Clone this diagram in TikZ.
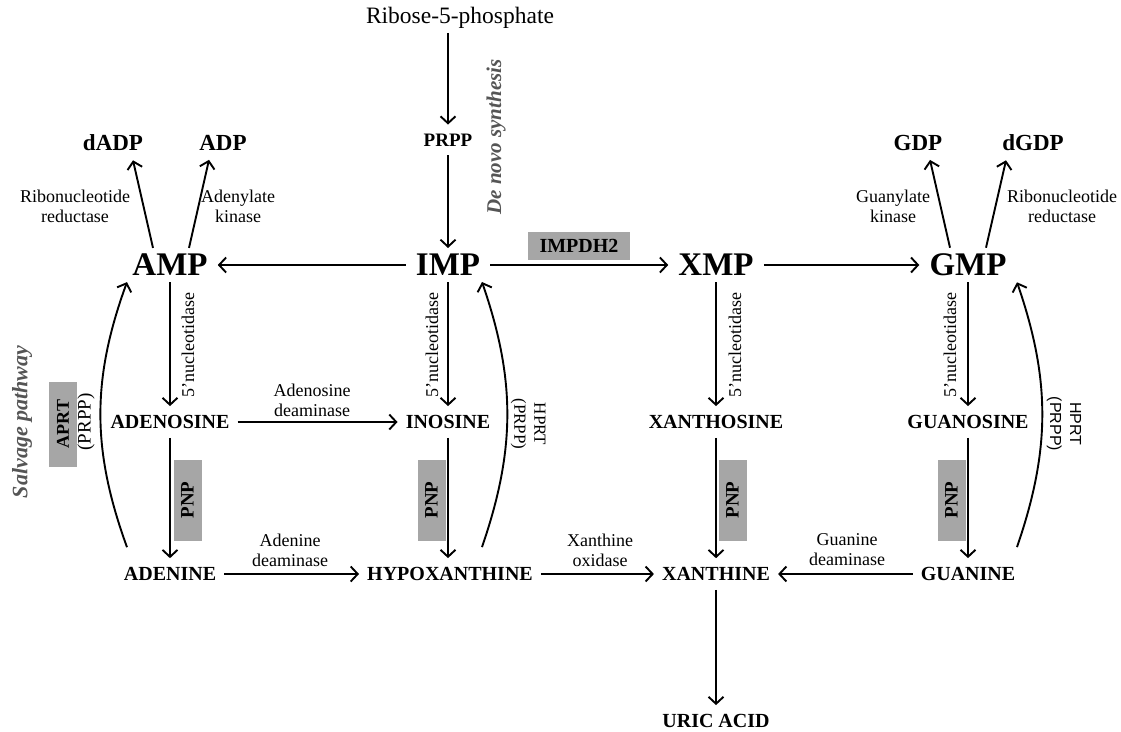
\documentclass[tikz,border=0pt]{standalone}
\usepackage{fontspec}
\setmainfont{Liberation Serif}
\newfontfamily\hprtsans{Liberation Sans}
\usetikzlibrary{arrows.meta, positioning}
\definecolor{enzGray}{HTML}{A6A6A6}
\definecolor{pathGray}{HTML}{555555}
\tikzset{
  bigmet/.style={font=\bfseries\fontsize{33}{33}\selectfont, inner xsep=10pt, inner ysep=6pt},
  met/.style={font=\bfseries\fontsize{20}{20}\selectfont, inner xsep=8pt, inner ysep=9pt},
  topmet/.style={font=\bfseries\fontsize{23}{23}\selectfont, inner xsep=4pt, inner ysep=9pt},
  enzlabel/.style={font=\fontsize{18}{20}\selectfont, align=center, inner sep=1pt},
  nucl/.style={font=\fontsize{18}{20}\selectfont, rotate=90, inner sep=1pt},
  grayenz/.style={fill=enzGray, inner sep=0pt, minimum height=28pt, font=\bfseries\fontsize{19}{19}\selectfont},
  pnpbox/.style={grayenz, rotate=90, minimum width=81pt},
  pathlabel/.style={text=pathGray, rotate=90, inner sep=1pt},
  flowarr/.style={-{Straight Barb[length=7pt,width=15pt]}, line width=1.9pt},
}
\begin{document}
\begin{tikzpicture}[x=1pt, y=1pt]
    \useasboundingbox (0,0) rectangle (1121,-731);
    \node[font=\fontsize{23.5}{24}\selectfont, inner ysep=4pt] (ribose) at (460,-18) {Ribose-5-phosphate};
    \node[met, font=\bfseries\fontsize{19}{19}\selectfont] (prpp) at (448,-140) {PRPP};
    \node[bigmet] (amp) at (170,-265) {AMP};
    \node[bigmet] (imp) at (448,-265) {IMP};
    \node[bigmet] (xmp) at (716,-265) {XMP};
    \node[bigmet] (gmp) at (968,-265) {GMP};
    \node[topmet] (dadp) at (113,-143) {dADP};
    \node[topmet] (adp) at (223,-143) {ADP};
    \node[topmet] (gdp) at (918,-143) {GDP};
    \node[topmet] (dgdp) at (1033,-143) {dGDP};
    \node[met] (adenosine) at (170,-422) {ADENOSINE};
    \node[met] (inosine) at (448,-422) {INOSINE};
    \node[met] (xanthosine) at (716,-422) {XANTHOSINE};
    \node[met] (guanosine) at (968,-422) {GUANOSINE};
    \node[met] (adenine) at (170,-574) {ADENINE};
    \node[met] (hypox) at (450,-574) {HYPOXANTHINE};
    \node[met] (xanthine) at (716,-574) {XANTHINE};
    \node[met] (guanine) at (968,-574) {GUANINE};
    \node[met] (uric) at (716,-721) {URIC ACID};

    \node[enzlabel] (rnrA) at (75,-206) {Ribonucleotide\\reductase};
    \node[enzlabel] (akin) at (238,-206) {Adenylate\\kinase};
    \node[enzlabel] (gkin) at (893,-206) {Guanylate\\kinase};
    \node[enzlabel] (rnrG) at (1062,-206) {Ribonucleotide\\reductase};
    \node[enzlabel] (ada) at (312,-400) {Adenosine\\deaminase};
    \node[enzlabel] (adeda) at (290,-550) {Adenine\\deaminase};
    \node[enzlabel] (xo) at (600,-550) {Xanthine\\oxidase};
    \node[enzlabel] (gda) at (847,-550) {Guanine\\deaminase};
    \node[nucl] (ntA) at (188,-345) {5'nucleotidase};
    \node[nucl] (ntI) at (432,-345) {5'nucleotidase};
    \node[nucl] (ntX) at (735,-345) {5'nucleotidase};
    \node[nucl] (ntG) at (950,-345) {5'nucleotidase};

    \node[pnpbox] (pnpA) at (187.5,-500) {PNP};
    \node[pnpbox] (pnpI) at (431.5,-500) {PNP};
    \node[pnpbox] (pnpX) at (732.5,-500) {PNP};
    \node[pnpbox] (pnpG) at (951.5,-500) {PNP};
    \node[grayenz, minimum width=102pt, font=\bfseries\fontsize{20}{20}\selectfont] (impdh) at (579,-246) {IMPDH2};
    \node[grayenz, rotate=90, minimum width=85pt, font=\bfseries\fontsize{18}{18}\selectfont] (aprt) at (63,-424) {APRT};
    \node[nucl, font=\fontsize{19}{19}\selectfont] (aprtsub) at (86,-422) {(PRPP)};
    \node[enzlabel, rotate=-90, font=\fontsize{17}{20}\selectfont] (hprtI) at (528,-424) {HPRT\\(PRPP)};
    \node[enzlabel, rotate=-90, font=\hprtsans\fontsize{16}{20}\selectfont] (hprtG) at (1064,-424) {HPRT\\(PRPP)};
    \node[pathlabel, font=\bfseries\itshape\fontsize{22}{22}\selectfont] (salvage) at (22,-422) {Salvage pathway};
    \node[pathlabel, font=\bfseries\itshape\fontsize{21}{21}\selectfont] (denovo) at (496,-137) {De novo synthesis};

    \draw[flowarr] (ribose.south -| prpp) -- (prpp);
    \draw[flowarr] (prpp) -- (imp);
    \draw[flowarr] (imp) -- (amp); \draw[flowarr] (imp) -- (xmp); \draw[flowarr] (xmp) -- (gmp);
    \draw[flowarr] ([xshift=-17pt]amp.north) -- ([xshift=20pt]dadp.south);
    \draw[flowarr] ([xshift=19pt]amp.north) -- ([xshift=-14pt]adp.south);
    \draw[flowarr] ([xshift=-18pt]gmp.north) -- ([xshift=12pt]gdp.south);
    \draw[flowarr] ([xshift=18pt]gmp.north) -- ([xshift=-27pt]dgdp.south);
    \draw[flowarr] (amp) -- (adenosine); \draw[flowarr] (adenosine) -- (adenine);
    \draw[flowarr] (imp) -- (inosine); \draw[flowarr] (inosine.south) -- (inosine.south |- hypox.north);
    \draw[flowarr] (xmp) -- (xanthosine); \draw[flowarr] (xanthosine) -- (xanthine);
    \draw[flowarr] (gmp) -- (guanosine); \draw[flowarr] (guanosine) -- (guanine);
    \draw[flowarr] (xanthine) -- (uric);
    \draw[flowarr] (adenosine) -- (inosine);
    \draw[flowarr] (adenine) -- (hypox); \draw[flowarr] (hypox) -- (xanthine); \draw[flowarr] (guanine) -- (xanthine);
    \draw[flowarr] ([xshift=-43pt,yshift=11pt]adenine.north) to[bend left=20] ([xshift=-43pt]amp.south);
    \draw[flowarr] ([xshift=32pt,yshift=11pt]hypox.north) to[bend right=19] ([xshift=34pt]imp.south);
    \draw[flowarr] ([xshift=49pt,yshift=11pt]guanine.north) to[bend right=19] ([xshift=49pt]gmp.south);
  \end{tikzpicture}
\end{document}
